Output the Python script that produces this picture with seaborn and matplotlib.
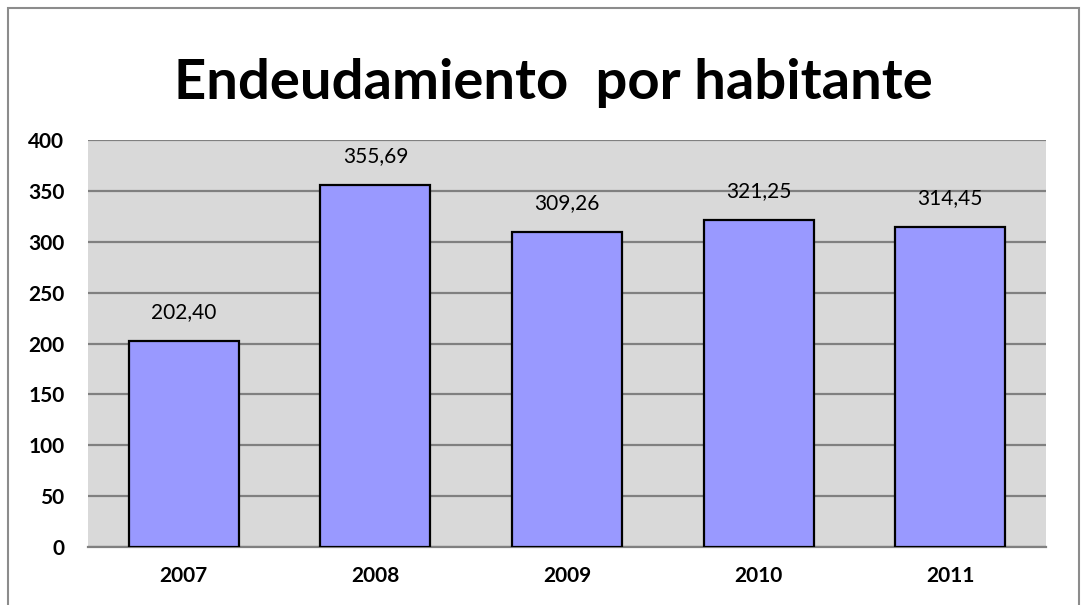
import matplotlib
matplotlib.use("Agg")
import matplotlib.pyplot as plt
import seaborn as sns
import pandas as pd
from matplotlib.patches import Rectangle

years = ["2007", "2008", "2009", "2010", "2011"]
values = [202.40, 355.69, 309.26, 321.25, 314.45]
value_labels = ["202,40", "355,69", "309,26", "321,25", "314,45"]
y_ticks = [0, 50, 100, 150, 200, 250, 300, 350, 400]

sns.set_theme(style="white")
plt.rcParams['font.family'] = ['Lato', 'DejaVu Sans']
plt.rcParams['text.color'] = 'black'

df = pd.DataFrame({"Año": years, "Endeudamiento": values})

fig = plt.figure(figsize=(10.83, 6.05), dpi=100)
ax = fig.add_axes([88 / 1083, 1 - 547 / 605, (1046 - 88) / 1083, (547 - 140) / 605])
ax.set_facecolor("#D9D9D9")

sns.barplot(data=df, x="Año", y="Endeudamiento", color="#9999FF", saturation=1,
            width=0.575, edgecolor="black", linewidth=1.6, ax=ax, zorder=3)

ax.set_ylim(0, 400)
ax.set_xlim(-0.5, len(years) - 0.5)
ax.set_yticks(y_ticks, labels=[str(t) for t in y_ticks], fontweight="bold",
              fontsize=15, color="black")
ax.set_xticks(range(len(years)), labels=years, fontweight="bold",
              fontsize=15, color="black")
ax.grid(axis="y", color="#808080", linewidth=1.6, zorder=1)
ax.set_axisbelow(True)
for s in ["top", "right", "left"]:
    ax.spines[s].set_visible(False)
ax.spines["bottom"].set_color("#808080")
ax.spines["bottom"].set_linewidth(1.6)
ax.tick_params(axis="y", length=0, pad=17)
ax.tick_params(axis="x", length=0, pad=14)
ax.set_xlabel("")
ax.set_ylabel("")

for i, (v, t) in enumerate(zip(values, value_labels)):
    ax.annotate(t, (i, v), xytext=(0, 14), textcoords="offset points",
                ha="center", va="bottom", fontsize=15, color="black")

fig.text(0.511, 1 - 83 / 605, "Endeudamiento  por habitante", ha="center", va="center",
         fontsize=40.5, fontweight="bold", color="black")

fig.patches.append(Rectangle((8 / 1083, -0.1), 1071 / 1083, 1.1 - 8 / 605,
                             transform=fig.transFigure, fill=False,
                             edgecolor="#8C8C8C", linewidth=1.5))

fig.savefig("out.png", dpi=100)
